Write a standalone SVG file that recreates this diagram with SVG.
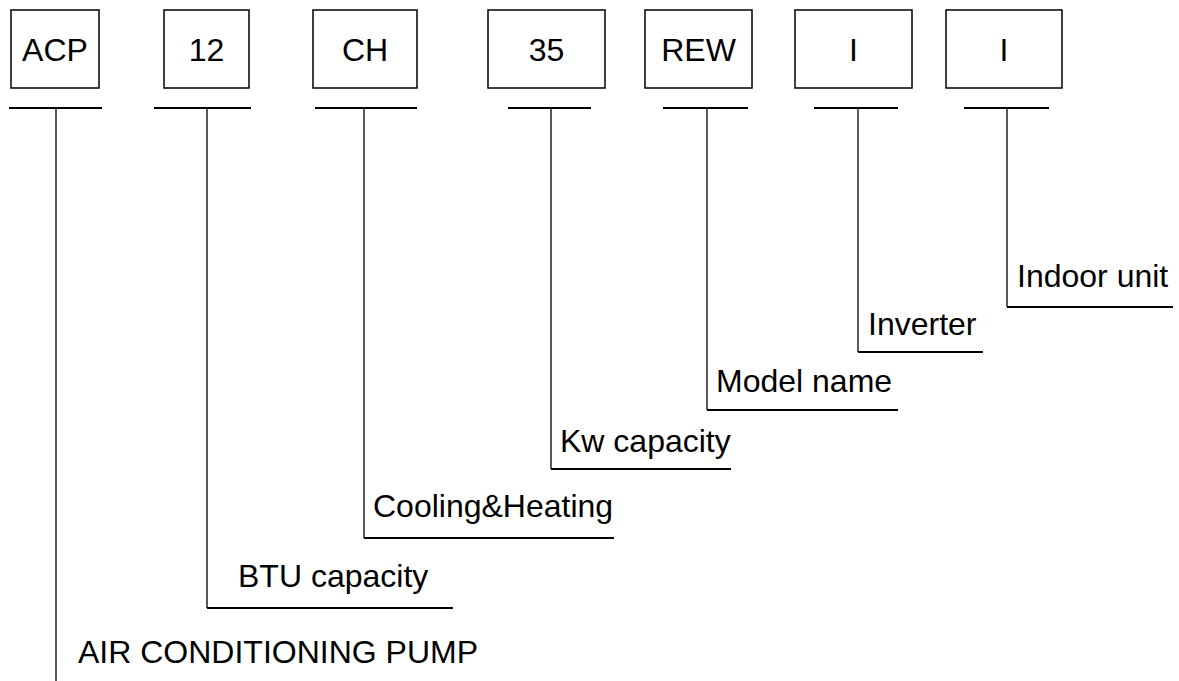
<svg xmlns="http://www.w3.org/2000/svg" width="1179" height="681" viewBox="0 0 1179 681">
<style>
.box{fill:#fff;stroke:#000;stroke-width:1.5}
.t{font-family:"Liberation Sans",Arial,sans-serif;font-size:32px;fill:#000}
.c{text-anchor:middle}
.h{stroke:#000;stroke-width:2;fill:none}
.v{stroke:#000;stroke-width:1.3;fill:none}
</style>
<rect width="1179" height="681" fill="#fff"/>
<g id="node-acp"><rect class="box" x="11" y="10" width="88" height="78"/><text class="t c" x="55" y="61">ACP</text></g>
<g id="node-12"><rect class="box" x="164" y="10" width="85" height="78"/><text class="t c" x="206.5" y="61">12</text></g>
<g id="node-ch"><rect class="box" x="313" y="10" width="104" height="78"/><text class="t c" x="365" y="61">CH</text></g>
<g id="node-35"><rect class="box" x="488" y="10" width="117" height="78"/><text class="t c" x="546.5" y="61">35</text></g>
<g id="node-rew"><rect class="box" x="645" y="10" width="107" height="78"/><text class="t c" x="698.5" y="61">REW</text></g>
<g id="node-i1"><rect class="box" x="795" y="10" width="117" height="78"/><text class="t c" x="853.5" y="61">I</text></g>
<g id="node-i2"><rect class="box" x="946" y="10" width="116" height="78"/><text class="t c" x="1004" y="61">I</text></g>
<g id="connectors">
<line class="h" x1="9" y1="108" x2="102" y2="108"/>
<line class="h" x1="154" y1="108" x2="251" y2="108"/>
<line class="h" x1="315" y1="108" x2="417" y2="108"/>
<line class="h" x1="508" y1="108" x2="591" y2="108"/>
<line class="h" x1="663" y1="108" x2="748" y2="108"/>
<line class="h" x1="814" y1="108" x2="898" y2="108"/>
<line class="h" x1="964" y1="108" x2="1049" y2="108"/>
<line class="v" x1="1007" y1="108" x2="1007" y2="307"/>
<line class="h" x1="1007" y1="307" x2="1173" y2="307"/>
<line class="v" x1="858" y1="108" x2="858" y2="352"/>
<line class="h" x1="858" y1="352" x2="983" y2="352"/>
<line class="v" x1="707" y1="108" x2="707" y2="410"/>
<line class="h" x1="707" y1="410" x2="898" y2="410"/>
<line class="v" x1="551" y1="108" x2="551" y2="469"/>
<line class="h" x1="551" y1="469" x2="731" y2="469"/>
<line class="v" x1="364" y1="108" x2="364" y2="538"/>
<line class="h" x1="364" y1="538" x2="614" y2="538"/>
<line class="v" x1="207" y1="108" x2="207" y2="608"/>
<line class="h" x1="207" y1="608" x2="453" y2="608"/>
<line class="v" x1="56" y1="108" x2="56" y2="681"/>
</g>
<g id="labels">
<text class="t" x="1017" y="287">Indoor unit</text>
<text class="t" x="868" y="335">Inverter</text>
<text class="t" x="716" y="392">Model name</text>
<text class="t" x="560" y="452">Kw capacity</text>
<text class="t" x="373" y="517">Cooling&amp;Heating</text>
<text class="t" x="238" y="587">BTU capacity</text>
<text class="t" x="78" y="663">AIR CONDITIONING PUMP</text>
</g>
</svg>
